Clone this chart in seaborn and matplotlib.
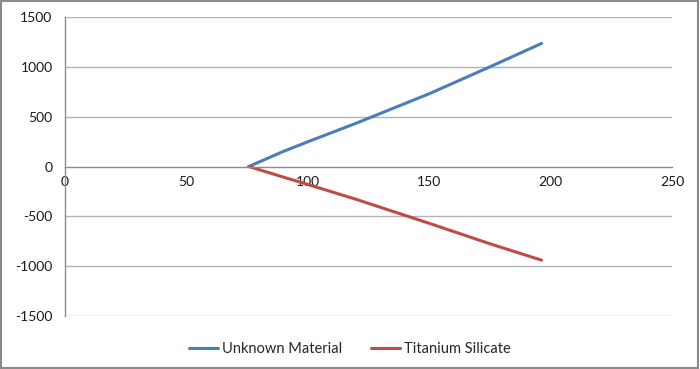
import matplotlib
matplotlib.use("Agg")
import matplotlib.pyplot as plt
import seaborn as sns
import pandas as pd
from matplotlib.patches import Rectangle

# ---- data ----
x_unknown = [75.7, 90, 100, 120, 150, 175, 196.3]
y_unknown = [0, 152, 248, 435, 730, 1000, 1235]
x_titan = [75.7, 90, 100, 120, 150, 175, 196.3]
y_titan = [0, -107, -180, -330, -570, -775, -940]
series_names = ["Unknown Material", "Titanium Silicate"]
x_ticks = [0, 50, 100, 150, 200, 250]
y_ticks = [-1500, -1000, -500, 0, 500, 1000, 1500]

df = pd.concat([
    pd.DataFrame({"x": x_unknown, "y": y_unknown, "series": series_names[0]}),
    pd.DataFrame({"x": x_titan, "y": y_titan, "series": series_names[1]}),
], ignore_index=True)

sns.set_style("white")
plt.rcParams["font.family"] = ["Lato", "DejaVu Sans"]

fig = plt.figure(figsize=(7.0, 3.69), dpi=100)
ax = fig.add_axes([65/700, 1-316/369, (672-65)/700, (316-17)/369])

palette = {series_names[0]: "#4a7ebb", series_names[1]: "#be4b48"}
sns.lineplot(data=df, x="x", y="y", hue="series", palette=palette,
             linewidth=2.2, sort=False, estimator=None, ax=ax)

ax.set_xlim(x_ticks[0], x_ticks[-1])
ax.set_ylim(y_ticks[0], y_ticks[-1])
ax.set_xticks(x_ticks)
ax.set_yticks(y_ticks)
ax.set_xticklabels([str(v) for v in x_ticks])
ax.set_yticklabels([str(v) for v in y_ticks])
ax.set_xlabel("")
ax.set_ylabel("")

for yv in y_ticks:
    if yv != 0:
        ax.axhline(yv, color="#b3b3b3", linewidth=1.0, zorder=0)

gray = "#8c8c8c"
ax.spines["top"].set_visible(False)
ax.spines["right"].set_visible(False)
ax.spines["bottom"].set_position(("data", 0))
ax.spines["bottom"].set_color(gray)
ax.spines["left"].set_color(gray)
ax.spines["bottom"].set_linewidth(1.0)
ax.spines["left"].set_linewidth(1.0)
ax.tick_params(axis="both", direction="out", length=4, width=1.0,
               color=gray, labelsize=10, labelcolor="#1a1a1a", pad=5)
ax.tick_params(axis="x", pad=3)

sns.move_legend(ax, "lower center", bbox_to_anchor=(0.5, 0.0),
                bbox_transform=fig.transFigure, ncol=2, frameon=False,
                title=None, fontsize=10.5, handlelength=2.0, handletextpad=0.25,
                columnspacing=2.0)

fig.patches.append(Rectangle((0.002, 0.004), 0.995, 0.992, transform=fig.transFigure,
                             fill=False, edgecolor="#8a8a8a", linewidth=1.5))

fig.savefig("out.png", dpi=100)
